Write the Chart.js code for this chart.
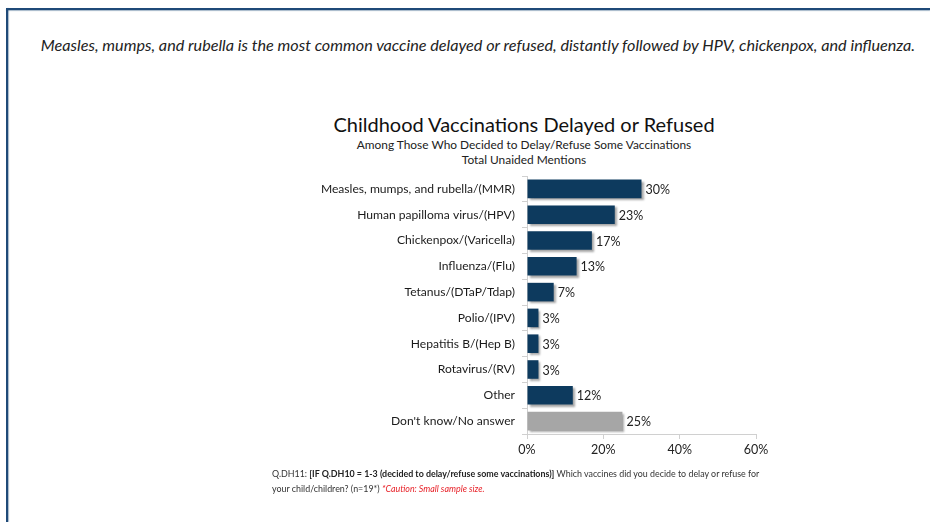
<!DOCTYPE html>
<html>
<head>
<meta charset="utf-8">
<script src="https://cdn.jsdelivr.net/npm/chart.js@4.4.1/dist/chart.umd.min.js"></script>
<style>
  html, body { margin:0; padding:0; background:#fff; }
  body { width:930px; height:522px; position:relative; overflow:hidden; font-family: Lato, "Open Sans", sans-serif; color:#1a1a1a; }
  #wrap { position:absolute; left:0; top:0; width:930px; height:522px; }
  .frameTop { position:absolute; left:6px; top:8px; width:924px; height:2px; background:#1f4a78; box-shadow:0 1px 1px rgba(31,74,120,0.4); }
  .frameLeft { position:absolute; left:6px; top:8px; width:2px; height:514px; background:#1f4a78; box-shadow:1px 0 1px rgba(31,74,120,0.4); }
  .caption { position:absolute; left:0; width:956px; top:35px; text-align:center; font-style:italic; font-size:16.2px; color:#222; white-space:nowrap; }
  .title { position:absolute; left:324px; width:400px; top:112px; text-align:center; font-size:20px; color:#111; white-space:nowrap; }
  .sub { position:absolute; left:324px; width:400px; text-align:center; font-size:11.9px; color:#222; white-space:nowrap; }
  .foot { position:absolute; left:272px; top:466px; font-size:8.9px; line-height:15px; color:#333; white-space:nowrap; }
  .foot b { color:#222; }
  .foot .red { color:#e8232a; font-style:italic; }
</style>
</head>
<body>
<div class="frameTop"></div>
<div class="frameLeft"></div>
<div class="caption">Measles, mumps, and rubella is the most common vaccine delayed or refused, distantly followed by HPV, chickenpox, and influenza.</div>
<div class="title">Childhood Vaccinations Delayed or Refused</div>
<div class="sub" style="top:137px">Among Those Who Decided to Delay/Refuse Some Vaccinations</div>
<div class="sub" style="top:152px">Total Unaided Mentions</div>
<div id="wrap"><canvas id="c" width="930" height="522"></canvas></div>
<div class="foot">Q.DH11: <b>[IF Q.DH10 = 1-3 (decided to delay/refuse some vaccinations)]</b> Which vaccines did you decide to delay or refuse for<br>your child/children? (n=19*) <span class="red">*Caution: Small sample size.</span></div>
<script>
const categories = [
  "Measles, mumps, and rubella/(MMR)",
  "Human papilloma virus/(HPV)",
  "Chickenpox/(Varicella)",
  "Influenza/(Flu)",
  "Tetanus/(DTaP/Tdap)",
  "Polio/(IPV)",
  "Hepatitis B/(Hep B)",
  "Rotavirus/(RV)",
  "Other",
  "Don't know/No answer"
];
const values = [30, 23, 17, 13, 7, 3, 3, 3, 12, 25];
const barColors = ["#0d3a5e","#0d3a5e","#0d3a5e","#0d3a5e","#0d3a5e","#0d3a5e","#0d3a5e","#0d3a5e","#0d3a5e","#a6a6a6"];
const xTicks = [0, 20, 40, 60];

const FONT = "Lato, 'Open Sans', sans-serif";

const shadowPlugin = {
  id: 'barShadow',
  beforeDatasetDraw(chart) {
    const ctx = chart.ctx;
    ctx.save();
    ctx.shadowColor = 'rgba(0,0,0,0.35)';
    ctx.shadowBlur = 2;
    ctx.shadowOffsetX = 2;
    ctx.shadowOffsetY = 2;
  },
  afterDatasetDraw(chart) {
    chart.ctx.restore();
  }
};

const labelPlugin = {
  id: 'valueLabels',
  afterDatasetsDraw(chart) {
    const ctx = chart.ctx;
    const meta = chart.getDatasetMeta(0);
    ctx.save();
    ctx.font = "12.5px " + FONT;
    ctx.fillStyle = "#222";
    ctx.textAlign = "left";
    ctx.textBaseline = "middle";
    meta.data.forEach((bar, i) => {
      ctx.fillText(values[i] + "%", bar.x + 4, bar.y + 1);
    });
    ctx.restore();
  }
};

new Chart(document.getElementById('c'), {
  type: 'bar',
  data: {
    labels: categories,
    datasets: [{
      data: values,
      backgroundColor: barColors,
      borderWidth: 0,
      barPercentage: 0.72,
      categoryPercentage: 1.0
    }]
  },
  options: {
    indexAxis: 'y',
    responsive: false,
    animation: false,
    devicePixelRatio: 1,
    layout: { padding: { left: 277, right: 174, top: 176, bottom: 58 } },
    plugins: {
      legend: { display: false },
      tooltip: { enabled: false },
      title: { display: false }
    },
    scales: {
      x: {
        min: 0, max: 60,
        afterFit(scale) { scale.height = 30; },
        afterBuildTicks(scale) { scale.ticks = xTicks.map(v => ({ value: v })); },
        grid: { display: true, drawOnChartArea: false, drawTicks: true, tickLength: 5, color: '#d0d0d0' },
        border: { display: true, color: '#d0d0d0', width: 1 },
        ticks: {
          color: '#222',
          font: { family: FONT, size: 12.5 },
          padding: 3,
          callback: v => v + '%'
        }
      },
      y: {
        afterFit(scale) { scale.width = 250; },
        grid: { display: true, drawOnChartArea: false, drawTicks: true, tickLength: 5, color: '#d0d0d0', offset: true },
        border: { display: true, color: '#d0d0d0', width: 1 },
        ticks: {
          color: '#1a1a1a',
          font: { family: FONT, size: 12.1 },
          padding: 7
        }
      }
    }
  },
  plugins: [shadowPlugin, labelPlugin]
});
</script>
</body>
</html>
